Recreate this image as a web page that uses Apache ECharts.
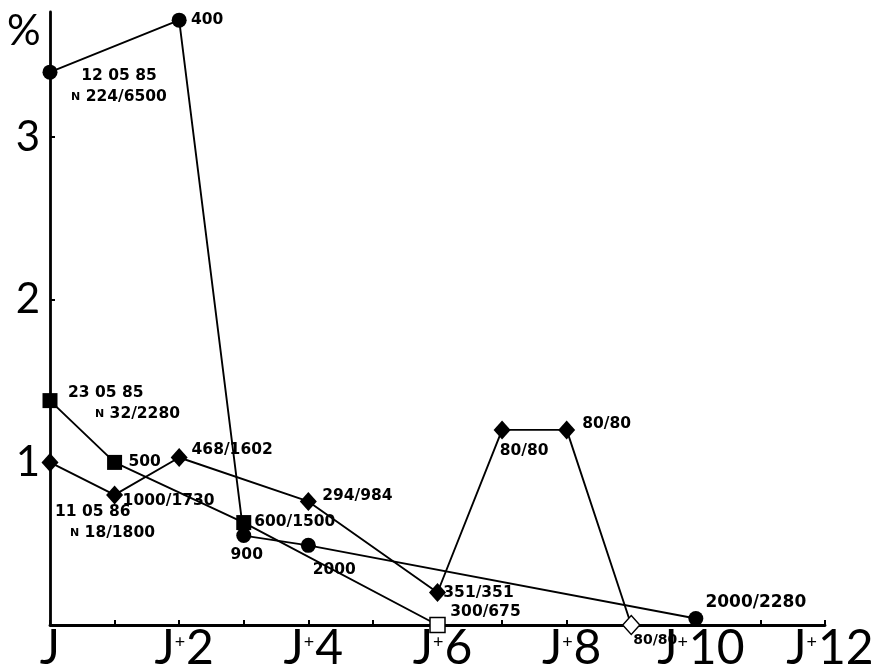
<!DOCTYPE html>
<html><head><meta charset="utf-8">
<script src="https://cdn.jsdelivr.net/npm/echarts@6/dist/echarts.min.js"></script>
<style>html,body{margin:0;padding:0;background:#fff}#c{width:882px;height:666px}</style>
</head><body><div id="c"></div>
<script>
// ---- data ----
const days12 = [0, 2, 3, 4, 10];
const pct12 = [3.40, 3.72, 0.55, 0.49, 0.04];
const lab12 = ['12 05 85\nN 224/6500', '400', '900', '2000', '2000/2280'];

const days23 = [0, 1, 3, 6];
const pct23 = [1.38, 1.00, 0.63, 0.00];
const lab23 = ['23 05 85\nN 32/2280', '500', '600/1500', '300/675'];

const days11 = [0, 1, 2, 4, 6, 7, 8, 9];
const pct11 = [1.00, 0.80, 1.03, 0.76, 0.20, 1.20, 1.20, 0.00];
const lab11 = ['11 05 86\nN 18/1800', '1000/1730', '468/1602', '294/984', '351/351', '80/80', '80/80', '80/80'];

const yTicks = [1, 2, 3];
const xTickLabels = ['J', 'J+2', 'J+4', 'J+6', 'J+8', 'J+10', 'J+12'];

// ---- label layout (offsets from point, px) ----
const lay12 = [
  {o: [69, 14], align: 'center'}, {o: [28, 0]}, {o: [3, 19]}, {o: [26, 25]}, {o: [60, -16], fs: 17}
];
const lay23 = [
  {o: [18, 3], align: 'left', npad: 27}, {o: [30, 0]}, {o: [51, -1]}, {o: [48, -13]}
];
const lay11 = [
  {o: [5, 60], align: 'left', npad: 15}, {o: [54, 6]}, {o: [53, -8]}, {o: [49, -5]},
  {o: [41, 0]}, {o: [22, 21]}, {o: [40, -6]}, {o: [24, 15], fs: 14}
];
const openLast23 = true, openLast11 = true;

const LF = 'DejaVu Sans';
function buildData(xs, ys, labs, lays, openLast) {
  return xs.map((x, i) => {
    const L = lays[i];
    const fs = L.fs || 15.5;
    let txt = labs[i];
    const rich = {
      a: {fontFamily: LF, fontWeight: 'bold', fontSize: fs, color: '#000', lineHeight: 21},
      n: {fontFamily: LF, fontWeight: 'bold', fontSize: 11, color: '#000', lineHeight: 21, padding: [0, 0, 0, L.npad || 0]}
    };
    let formatted;
    if (txt.indexOf('\n') >= 0) {
      const parts = txt.split('\n');
      const second = parts[1].replace(/^N /, '');
      formatted = '{a|' + parts[0] + '}\n{n|N}{a| ' + second + '}';
    } else {
      formatted = '{a|' + txt + '}';
    }
    const item = {
      value: [x, ys[i]],
      label: {
        show: true, position: 'inside', offset: L.o,
        align: L.align || 'center', verticalAlign: 'middle',
        formatter: formatted, rich: rich
      }
    };
    if (openLast && i === xs.length - 1) {
      item.itemStyle = {color: '#fff', borderColor: '#000', borderWidth: 1.5};
    }
    return item;
  });
}

const chart = echarts.init(document.getElementById('c'));
const lineStyle = {color: '#000', width: 1.9};
chart.setOption({
  animation: false,
  backgroundColor: '#fff',
  grid: {left: 50, right: 57, top: 12, bottom: 41, containLabel: false, outerBoundsMode: 'none'},
  xAxis: {
    type: 'value', min: 0, max: 12, interval: 1,
    axisLine: {show: true, onZero: false, lineStyle: {color: '#000', width: 2.8}},
    axisTick: {show: true, inside: true, length: 5, lineStyle: {color: '#000', width: 2}},
    splitLine: {show: false},
    axisLabel: {
      margin: 0, showMinLabel: true, showMaxLabel: true, hideOverlap: false,
      formatter: function (v) {
        if (v % 2 !== 0) return '';
        const t = xTickLabels[v / 2];
        if (!t) return '';
        if (t.indexOf('+') < 0) return '{a|' + t + '}';
        const p = t.split('+');
        return '{j|' + p[0] + '}{p|+}{a|' + p[1] + '}';
      },
      rich: {
        a: {fontFamily: 'Lato', fontSize: 48, color: '#000'},
        j: {fontFamily: 'Lato', fontSize: 48, color: '#000', padding: [0, 0, 0, 10]},
        p: {fontFamily: 'Lato', fontSize: 18, color: '#000', padding: [0, 1, 14, 0]}
      }
    }
  },
  yAxis: {
    type: 'value', min: 0, max: 3.77, interval: 1,
    axisLine: {show: true, onZero: false, lineStyle: {color: '#000', width: 2.8}},
    axisTick: {show: true, inside: true, length: 5, lineStyle: {color: '#000', width: 2}},
    splitLine: {show: false},
    axisLabel: {
      margin: 10, showMaxLabel: false,
      fontFamily: 'Lato', fontSize: 42, color: '#000',
      formatter: v => yTicks.indexOf(v) >= 0 ? String(v) : ''
    }
  },
  graphic: [{
    type: 'text', left: 7, top: 10,
    style: {text: '%', fontFamily: 'Lato', fontSize: 42, fill: '#000'}
  }],
  series: [
    {
      type: 'line', name: '12 05 85', symbol: 'circle', symbolSize: 15,
      itemStyle: {color: '#000'}, lineStyle: lineStyle, z: 3,
      data: buildData(days12, pct12, lab12, lay12, false)
    },
    {
      type: 'line', name: '23 05 85', symbol: 'rect', symbolSize: 15,
      itemStyle: {color: '#000'}, lineStyle: lineStyle, z: 4,
      data: buildData(days23, pct23, lab23, lay23, openLast23)
    },
    {
      type: 'line', name: '11 05 86', symbol: 'diamond', symbolSize: [17, 19],
      itemStyle: {color: '#000'}, lineStyle: lineStyle, z: 5,
      data: buildData(days11, pct11, lab11, lay11, openLast11)
    }
  ]
});
</script>
</body></html>
